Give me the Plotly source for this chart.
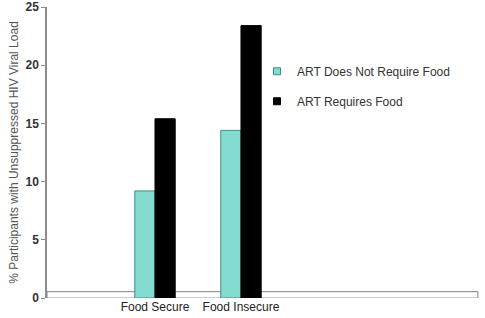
import plotly.graph_objects as go

categories = ["Food Secure", "Food Insecure"]
not_require = [9.2, 14.4]
requires = [15.4, 23.4]
series_names = ["ART Does Not Require Food", "ART Requires Food"]
series_colors = ["#84dbd0", "#000000"]
series_lines = ["#3f8f86", "#000000"]
y_ticks = [0, 5, 10, 15, 20, 25]

fig = go.Figure()
for vals, name, col, lc in zip([not_require, requires], series_names, series_colors, series_lines):
    fig.add_trace(go.Bar(
        x=categories, y=vals, name=name,
        marker=dict(color=col, line=dict(color=lc, width=1)),
        showlegend=False,
    ))
# legend entries with small square symbols
for i, (name, col, lc) in enumerate(zip(series_names, series_colors, series_lines)):
    fig.add_trace(go.Scatter(
        x=[None], y=[None], mode="markers", name=name,
        marker=dict(symbol="square", size=7, color=col, line=dict(color=lc, width=1)),
        legendgroup=f"g{i}",
    ))

# 3D-style floor
fig.add_shape(type="rect", xref="paper", yref="y", x0=0, x1=0.995, y0=0, y1=0.55,
              line=dict(color="#9a9a9a", width=1.2), fillcolor="white", layer="below")

fig.update_layout(
    width=485, height=318,
    margin=dict(l=47, r=5, t=7, b=20, autoexpand=False),
    paper_bgcolor="white", plot_bgcolor="white",
    barmode="group", bargap=0.53, bargroupgap=0,
    font=dict(family="Liberation Sans, Arial", color="#333333"),
    showlegend=True,
    legend=dict(x=0.485, y=0.829, xanchor="left", yanchor="top",
                font=dict(size=12, color="#333333"), tracegroupgap=11,
                bgcolor="rgba(0,0,0,0)", itemwidth=30),
    xaxis=dict(range=[-1.256, 3.78], showline=False, showgrid=False, automargin=False,
               ticks="", tickfont=dict(size=12, color="#222222"), ticklabelstandoff=0,
               fixedrange=True),
    yaxis=dict(range=[0, 25], tickvals=y_ticks, showgrid=False, zeroline=False,
               showline=True, linecolor="#8c8c8c", linewidth=1.5, automargin=False,
               ticks="outside", ticklen=4, tickcolor="#8c8c8c", ticklabeloverflow="allow",
               tickfont=dict(size=12, color="#333333", family="Liberation Sans, Arial", weight="bold"),
               title=dict(text="% Participants with Unsuppressed HIV Viral Load",
                          font=dict(size=12, color="#555555"), standoff=4)),
)
fig.write_html("out.html")
